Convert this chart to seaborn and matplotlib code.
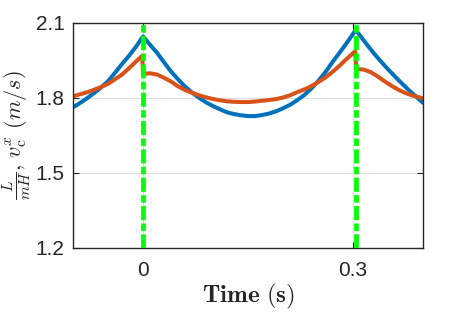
import numpy as np
import pandas as pd
import seaborn as sns
import matplotlib.pyplot as plt

# blue: L/(mH)
t_blue = [-0.1, -0.09, -0.08, -0.07, -0.06, -0.05, -0.04, -0.03, -0.02, -0.01, 0.0,
          0.01, 0.02, 0.03, 0.04, 0.05, 0.06, 0.07, 0.08, 0.09, 0.10, 0.11, 0.12, 0.13,
          0.14, 0.15, 0.16, 0.17, 0.18, 0.19, 0.20, 0.21, 0.22, 0.23, 0.24, 0.25, 0.26,
          0.27, 0.28, 0.29, 0.30, 0.304,
          0.31, 0.32, 0.33, 0.34, 0.35, 0.36, 0.37, 0.38, 0.39, 0.40]
v_blue = [1.762, 1.779, 1.798, 1.819, 1.841, 1.866, 1.900, 1.935, 1.968, 2.004, 2.045,
          2.012, 1.980, 1.942, 1.905, 1.874, 1.845, 1.821, 1.800, 1.782, 1.767, 1.754, 1.742, 1.735,
          1.730, 1.727, 1.727, 1.731, 1.737, 1.746, 1.758, 1.772, 1.790, 1.810, 1.836, 1.866, 1.900,
          1.940, 1.977, 2.015, 2.055, 2.071,
          2.049, 2.012, 1.977, 1.945, 1.914, 1.885, 1.857, 1.830, 1.805, 1.780]

# orange: v_c^x
t_orange = [-0.1, -0.09, -0.08, -0.07, -0.06, -0.05, -0.04, -0.03, -0.02, -0.01, -0.001,
            0.0, 0.01, 0.02, 0.03, 0.04, 0.05, 0.06, 0.07, 0.08, 0.09, 0.10, 0.11, 0.12, 0.13,
            0.14, 0.15, 0.16, 0.17, 0.18, 0.19, 0.20, 0.21, 0.22, 0.23, 0.24, 0.25, 0.26, 0.27,
            0.28, 0.29, 0.30, 0.303,
            0.305, 0.315, 0.325, 0.335, 0.345, 0.355, 0.365, 0.375, 0.385, 0.40]
v_orange = [1.806, 1.814, 1.822, 1.832, 1.843, 1.856, 1.874, 1.893, 1.918, 1.945, 1.968,
            1.895, 1.898, 1.893, 1.880, 1.865, 1.846, 1.831, 1.820, 1.810, 1.802, 1.795, 1.790, 1.786, 1.784,
            1.783, 1.783, 1.785, 1.788, 1.791, 1.795, 1.801, 1.810, 1.822, 1.833, 1.846, 1.862, 1.880, 1.902,
            1.926, 1.953, 1.978, 1.986,
            1.915, 1.913, 1.903, 1.886, 1.866, 1.848, 1.832, 1.819, 1.809, 1.798]

# impact instants (green dash-dot)
t_events = [0.0, 0.304]

x_ticks = [0, 0.3]
x_ticklabels = ["0", "0.3"]
y_ticks = [1.2, 1.5, 1.8, 2.1]
y_ticklabels = ["1.2", "1.5", "1.8", "2.1"]

sns.set_theme(style="ticks")
plt.rcParams["font.family"] = ["Liberation Sans", "DejaVu Sans"]
plt.rcParams["mathtext.fontset"] = "cm"

df_blue = pd.DataFrame({"t": t_blue, "v": v_blue})
df_orange = pd.DataFrame({"t": t_orange, "v": v_orange})

fig = plt.figure(figsize=(4.69, 3.12), dpi=100)
ax = fig.add_axes([73 / 469, 1 - 248 / 312, 350 / 469, 225.3 / 312])

ax.grid(True, color="#dedede", linewidth=0.8)
ax.set_axisbelow(True)

sns.lineplot(data=df_blue, x="t", y="v", ax=ax, color="#0072BD", linewidth=2.9,
             estimator=None, sort=False)
sns.lineplot(data=df_orange, x="t", y="v", ax=ax, color="#D95319", linewidth=2.9,
             estimator=None, sort=False)
for te in t_events:
    ax.axvline(te, color="#00FF00", linewidth=3.4, linestyle=(0, (3, 0.7, 1.6, 0.7)), zorder=5)

ax.set_xlim(-0.1, 0.4)
ax.set_ylim(1.2, 2.1)
ax.set_xticks(x_ticks)
ax.set_xticklabels(x_ticklabels)
ax.set_yticks(y_ticks)
ax.set_yticklabels(y_ticklabels)
ax.tick_params(direction="in", length=4, width=0.8, colors="#262626", labelsize=15,
               top=True, right=True)
ax.tick_params(axis="x", pad=9)
ax.tick_params(axis="y", pad=6)
for s in ax.spines.values():
    s.set_color("#262626")
    s.set_linewidth(1.0)

ax.set_xlabel(r"$\mathbf{Time}\ \mathbf{(s)}$", fontsize=18, color="#262626", labelpad=2)
ax.set_ylabel(r"$\frac{L}{mH},\, v_{\mathrm{c}}^{x}\ (m/s)$", fontsize=16, color="#262626",
              labelpad=2)

fig.savefig("out.png", dpi=100)
